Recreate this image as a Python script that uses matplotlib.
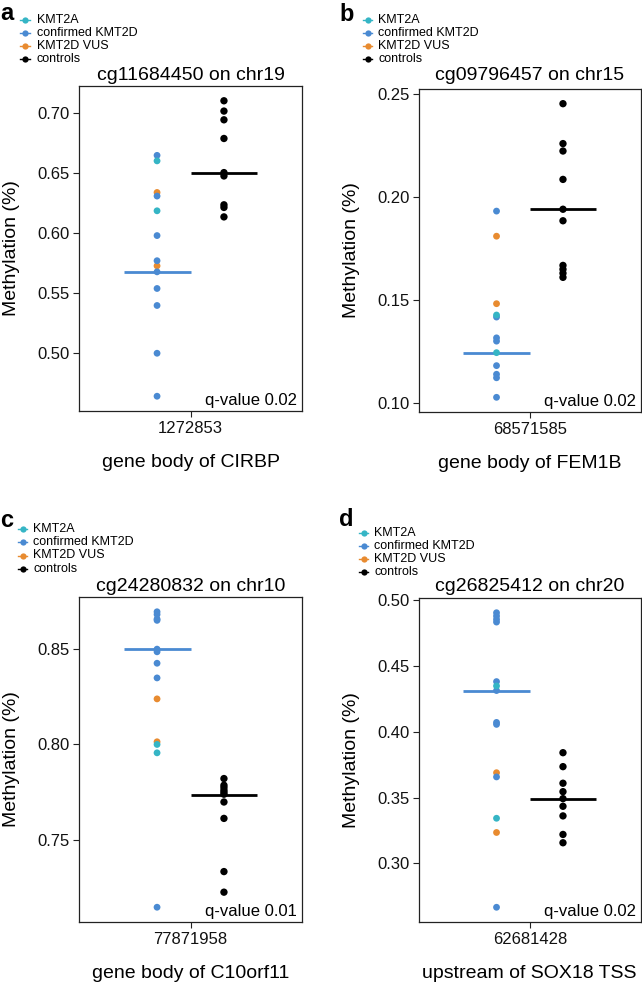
import matplotlib
matplotlib.use('Agg')
import matplotlib.pyplot as plt
from matplotlib.lines import Line2D
from matplotlib.ticker import MultipleLocator, FormatStrFormatter

plt.rcParams['font.family'] = ['Liberation Sans', 'DejaVu Sans']

W, H = 642, 983

# ---------------- data ----------------
group_names = ['KMT2A', 'confirmed KMT2D', 'KMT2D VUS', 'controls']
group_colors = ['#35B5C5', '#4A8AD2', '#E88B30', '#000000']

panel_letters = ['a', 'b', 'c', 'd']
probe_titles = ['cg11684450 on chr19', 'cg09796457 on chr15',
                'cg24280832 on chr10', 'cg26825412 on chr20']
positions = ['1272853', '68571585', '77871958', '62681428']
regions = ['gene body of CIRBP', 'gene body of FEM1B',
           'gene body of C10orf11', 'upstream of SOX18 TSS']
q_values = ['q-value 0.02', 'q-value 0.02', 'q-value 0.01', 'q-value 0.02']

# panel a
kmt2a_a = [0.6604, 0.6187]
conf_a = [0.6650, 0.6310, 0.5980, 0.5770, 0.5677, 0.5538, 0.5396, 0.4997, 0.4638]
vus_a = [0.6340, 0.5727]
ctrl_a = [0.7106, 0.7020, 0.6947, 0.6791, 0.6506, 0.6478, 0.6237, 0.6215, 0.6136]
# panel b
kmt2a_b = [0.1426, 0.1243]
conf_b = [0.1931, 0.1416, 0.1315, 0.1299, 0.1180, 0.1138, 0.1121, 0.1026]
vus_b = [0.1809, 0.1481]
ctrl_b = [0.2453, 0.2259, 0.2223, 0.2085, 0.1940, 0.1884, 0.1667, 0.1648, 0.1629, 0.1609]
# panel c
kmt2a_c = [0.8000, 0.7956]
conf_c = [0.8696, 0.8682, 0.8658, 0.8651, 0.8500, 0.8486, 0.8426, 0.8349, 0.7146]
vus_c = [0.8239, 0.8014]
ctrl_c = [0.7821, 0.7786, 0.7774, 0.7760, 0.7749, 0.7739, 0.7698, 0.7612, 0.7333, 0.7225]
# panel d
kmt2a_d = [0.4348, 0.3343]
conf_d = [0.4904, 0.4879, 0.4854, 0.4833, 0.4381, 0.4313, 0.4071, 0.4056, 0.3657, 0.2667]
vus_d = [0.3689, 0.3235]
ctrl_d = [0.3841, 0.3735, 0.3609, 0.3545, 0.3492, 0.3434, 0.3361, 0.3220, 0.3157]

# median lines (confirmed KMT2D, controls)
median_cases = [0.5675, 0.1243, 0.8500, 0.4313]
median_ctrls = [0.6503, 0.1940, 0.7737, 0.3487]

panel_data = [
    (kmt2a_a, conf_a, vus_a, ctrl_a),
    (kmt2a_b, conf_b, vus_b, ctrl_b),
    (kmt2a_c, conf_c, vus_c, ctrl_c),
    (kmt2a_d, conf_d, vus_d, ctrl_d),
]

# ---------------- layout (pixels) ----------------
axes_px = [(79, 86, 302, 411), (419, 89, 640.5, 412),
           (79, 597, 302, 922), (419, 598, 640.5, 922)]
ylabel_right = [20, 360, 20, 360]
title_baseline = [80, 80, 590.7, 590.7]
letter_pos = [(0, 20.5), (339, 20.7), (0, 527), (339, 526)]
legend_pos = [(25, 20, 36.7), (367.7, 20, 378.3),
              (22.7, 529.3, 33.3), (363.7, 532.7, 374.3)]
legend_step = 13.1

fig = plt.figure(figsize=(W / 100, H / 100), dpi=100)


def fx(x):
    return x / W


def fy(y):
    return 1 - y / H


case_x, ctrl_x = -0.3, 0.3

for i in range(4):
    l, t, r, b = axes_px[i]
    ax = fig.add_axes([fx(l), fy(b), (r - l) / W, (b - t) / H])
    k, c, v, ctl = panel_data[i]

    ax.plot([-0.6, 0.0], [median_cases[i]] * 2, color=group_colors[1], lw=2.0,
            solid_capstyle='butt', zorder=1)
    ax.plot([0.0, 0.6], [median_ctrls[i]] * 2, color=group_colors[3], lw=2.0,
            solid_capstyle='butt', zorder=1)

    ax.scatter([case_x] * len(v), v, s=24, color=group_colors[2], edgecolors='none', zorder=2)
    ax.scatter([case_x] * len(c), c, s=24, color=group_colors[1], edgecolors='none', zorder=3)
    ax.scatter([case_x] * len(k), k, s=24, color=group_colors[0], edgecolors='none', zorder=4)
    ax.scatter([ctrl_x] * len(ctl), ctl, s=28, color=group_colors[3], edgecolors='none', zorder=2)

    ax.set_xlim(-1, 1)
    ax.set_xticks([0])
    ax.set_xticklabels([positions[i]])
    ax.yaxis.set_major_locator(MultipleLocator(0.05))
    ax.yaxis.set_major_formatter(FormatStrFormatter('%.2f'))
    ax.tick_params(axis='both', labelsize=12, length=4, width=0.8, pad=3, colors='#222222',
                   labelcolor='#111111')

    for sp in ax.spines.values():
        sp.set_linewidth(0.9)
        sp.set_color('#222222')

    ax.set_ylabel('Methylation (%)', fontsize=14)
    ax.yaxis.set_label_coords((ylabel_right[i] - l) / (r - l), 0.5)
    ax.set_xlabel(regions[i], fontsize=14)
    ax.xaxis.set_label_coords(0.5, -43 / (b - t))
    pad_pt = (t - title_baseline[i]) * 0.72
    ax.set_title(probe_titles[i], fontsize=14, pad=pad_pt)

    ax.annotate(q_values[i], xy=(1, 0), xycoords='axes fraction', xytext=(-5, 3),
                textcoords='offset pixels', ha='right', va='bottom', fontsize=12)

    # panel letter
    lx, ly = letter_pos[i]
    fig.text(fx(lx), fy(ly), panel_letters[i], fontsize=17, fontweight='bold',
             ha='left', va='baseline')

    # legend
    mx, my, tx = legend_pos[i]
    for j, (name, col) in enumerate(zip(group_names, group_colors)):
        yy = my + j * legend_step
        fig.add_artist(Line2D([fx(mx - 4.5), fx(mx), fx(mx + 4.5)], [fy(yy)] * 3,
                              transform=fig.transFigure, color=col, lw=1.0,
                              marker='o', markevery=[1], markersize=4.5,
                              markeredgewidth=0))
        fig.text(fx(tx), fy(yy), name, fontsize=9, ha='left', va='center')

fig.savefig('out.png', dpi=100)
